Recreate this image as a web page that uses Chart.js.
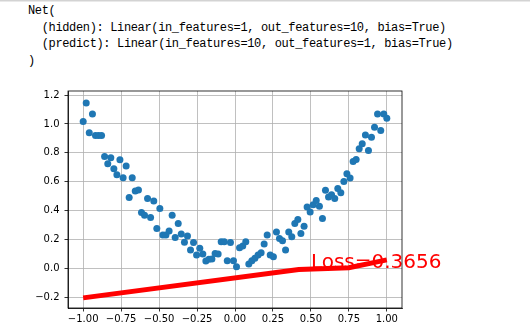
<!DOCTYPE html>
<html>
<head>
<meta charset="utf-8">
<script src="https://cdn.jsdelivr.net/npm/chart.js@4.4.0/dist/chart.umd.min.js"></script>
<style>
  body { margin: 0; background: #fff; width: 530px; height: 327px; overflow: hidden; position: relative; }
  #topline { position: absolute; left: 0; top: 0; width: 530px; height: 2px; background: linear-gradient(#c8c8c8, #f4f4f4); }
  pre { position: absolute; left: 28px; top: 3px; margin: 0; font-family: "Liberation Mono", "DejaVu Sans Mono", monospace;
        font-size: 12px; letter-spacing: -0.35px; line-height: 16.5px; color: #000; }
  #wrap { position: absolute; left: 0; top: 80px; width: 530px; height: 247px; }
</style>
</head>
<body>
<div id="topline"></div>
<pre>Net(
  (hidden): Linear(in_features=1, out_features=10, bias=True)
  (predict): Linear(in_features=10, out_features=1, bias=True)
)</pre>
<div id="wrap"><canvas id="lossChart" width="530" height="247"></canvas></div>
<script>
/* scatter data x (inputs) and y (noisy targets) */
var xData = [
  -1.000, -0.980, -0.960, -0.939, -0.919, -0.899, -0.879, -0.859, -0.838, -0.818,
  -0.798, -0.778, -0.758, -0.737, -0.717, -0.697, -0.677, -0.657, -0.636, -0.616,
  -0.596, -0.576, -0.556, -0.535, -0.515, -0.495, -0.475, -0.455, -0.434, -0.414,
  -0.394, -0.374, -0.354, -0.333, -0.313, -0.293, -0.273, -0.253, -0.232, -0.212,
  -0.192, -0.172, -0.152, -0.131, -0.111, -0.091, -0.071, -0.051, -0.030, -0.010,
   0.010,  0.030,  0.051,  0.071,  0.091,  0.111,  0.131,  0.152,  0.172,  0.192,
   0.212,  0.232,  0.253,  0.273,  0.293,  0.313,  0.333,  0.354,  0.374,  0.394,
   0.414,  0.434,  0.455,  0.475,  0.495,  0.515,  0.535,  0.556,  0.576,  0.596,
   0.616,  0.636,  0.657,  0.677,  0.697,  0.717,  0.737,  0.758,  0.778,  0.798,
   0.818,  0.838,  0.859,  0.879,  0.899,  0.919,  0.939,  0.960,  0.980,  1.000
];
var yData = [
  1.016, 1.145, 0.938, 1.069, 0.919, 0.919, 0.919, 0.774, 0.724, 0.765,
  0.690, 0.648, 0.752, 0.628, 0.708, 0.490, 0.628, 0.535, 0.542, 0.386,
  0.368, 0.483, 0.352, 0.466, 0.276, 0.414, 0.230, 0.230, 0.259, 0.368,
  0.214, 0.310, 0.237, 0.181, 0.223, 0.126, 0.179, 0.092, 0.138, 0.099,
  0.050, 0.062, 0.064, 0.103, 0.099, 0.183, 0.183, 0.052, 0.179, 0.052,
  0.011, 0.142, 0.154, 0.183, 0.030, 0.052, 0.069, 0.092, 0.108, 0.168,
  0.230, 0.092, 0.080, 0.252, 0.207, 0.190, 0.126, 0.252, 0.218, 0.310,
  0.338, 0.241, 0.292, 0.425, 0.390, 0.440, 0.470, 0.430, 0.345, 0.540,
  0.494, 0.510, 0.483, 0.552, 0.524, 0.602, 0.655, 0.625, 0.740, 0.754,
  0.828, 0.862, 0.924, 0.816, 0.908, 0.977, 1.069, 0.954, 1.069, 1.039
];

/* network prediction (red line), kinks */
var predX = [-1.00, 0.42, 0.75, 1.00];
var predY = [-0.205, -0.008, 0.004, 0.058];

/* axis ticks */
var xTicks = [-1.00, -0.75, -0.50, -0.25, 0.00, 0.25, 0.50, 0.75, 1.00];
var xTickLabels = ['\u22121.00', '\u22120.75', '\u22120.50', '\u22120.25', '0.00', '0.25', '0.50', '0.75', '1.00'];
var yTicks = [-0.2, 0.0, 0.2, 0.4, 0.6, 0.8, 1.0, 1.2];
var yTickLabels = ['\u22120.2', '0.0', '0.2', '0.4', '0.6', '0.8', '1.0', '1.2'];

var lossText = 'Loss=0.3656';
var lossPos = [0.5, 0.0];

var scatterPoints = [];
for (var i = 0; i < xData.length; i++) {
    scatterPoints.push({ x: xData[i], y: yData[i] });
}
var predPoints = [];
for (var j = 0; j < predX.length; j++) {
    predPoints.push({ x: predX[j], y: predY[j] });
}

/* frame on all four sides + the loss text in data coordinates */
var framePlugin = {
    id: 'frame',
    afterDatasetsDraw: function(chart) {
        var ctx = chart.ctx;
        ctx.save();
        ctx.font = '20px "DejaVu Sans"';
        ctx.fillStyle = '#ff0000';
        ctx.textAlign = 'left';
        ctx.textBaseline = 'alphabetic';
        ctx.fillText(lossText, chart.scales.x.getPixelForValue(lossPos[0]), chart.scales.y.getPixelForValue(lossPos[1]));
        ctx.restore();
    },
    afterDraw: function(chart) {
        var ctx = chart.ctx;
        var a = chart.chartArea;
        ctx.save();
        ctx.strokeStyle = '#000';
        ctx.lineWidth = 0.8;
        ctx.strokeRect(a.left, a.top, a.right - a.left, a.bottom - a.top);
        ctx.restore();
    }
};

var ctx = document.getElementById('lossChart').getContext('2d');
var chart = new Chart(ctx, {
    type: 'scatter',
    data: {
        datasets: [{
            type: 'line',
            label: 'prediction',
            data: predPoints,
            borderColor: '#ff0000',
            borderWidth: 5,
            pointRadius: 0,
            fill: false,
            tension: 0,
            order: 0
        }, {
            label: 'data',
            data: scatterPoints,
            backgroundColor: '#1f77b4',
            borderColor: '#1f77b4',
            borderWidth: 0,
            pointRadius: 3.5,
            order: 1
        }]
    },
    options: {
        responsive: false,
        animation: false,
        events: [],
        layout: { padding: { left: 0, top: 10, right: 128, bottom: 0 } },
        plugins: { legend: { display: false }, tooltip: { enabled: false } },
        scales: {
            x: {
                type: 'linear',
                min: -1.1,
                max: 1.1,
                afterBuildTicks: function(scale) {
                    scale.ticks = xTicks.map(function(v) { return { value: v }; });
                },
                afterFit: function(scale) { scale.height = 19; },
                ticks: {
                    padding: 2,
                    color: '#000',
                    font: { family: '"DejaVu Sans"', size: 10 },
                    callback: function(value) {
                        var k = xTicks.indexOf(value);
                        return k >= 0 ? xTickLabels[k] : '';
                    }
                },
                grid: { color: '#b0b0b0', lineWidth: 0.8, tickColor: '#000', tickLength: 3.5, tickWidth: 0.8 },
                border: { display: true, color: '#000', width: 0.8 }
            },
            y: {
                type: 'linear',
                min: -0.275,
                max: 1.228,
                afterBuildTicks: function(scale) {
                    scale.ticks = yTicks.map(function(v) { return { value: v }; });
                },
                afterFit: function(scale) { scale.width = 68; },
                ticks: {
                    padding: 5,
                    color: '#000',
                    font: { family: '"DejaVu Sans"', size: 10 },
                    callback: function(value) {
                        var k = yTicks.indexOf(value);
                        return k >= 0 ? yTickLabels[k] : '';
                    }
                },
                grid: { color: '#b0b0b0', lineWidth: 0.8, tickColor: '#000', tickLength: 3.5, tickWidth: 0.8 },
                border: { display: true, color: '#000', width: 0.8 }
            }
        }
    },
    plugins: [framePlugin]
});
</script>
</body>
</html>
